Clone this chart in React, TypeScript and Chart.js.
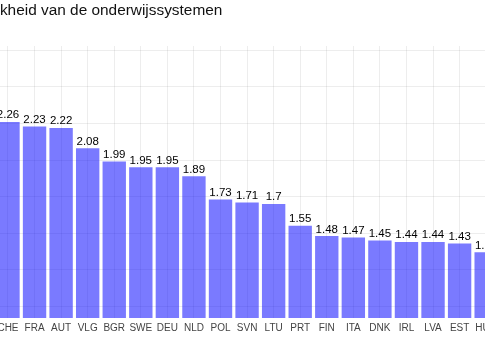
import React, { useEffect, useRef } from "react";
import { Chart, registerables } from "chart.js";

Chart.register(...registerables);

const titleText = "Ongelijkheid van de onderwijssystemen";
const categories = ["CHE", "FRA", "AUT", "VLG", "BGR", "SWE", "DEU", "NLD", "POL", "SVN", "LTU", "PRT", "FIN", "ITA", "DNK", "IRL", "LVA", "EST", "HUN"];
const values = [2.26, 2.23, 2.22, 2.08, 1.99, 1.95, 1.95, 1.89, 1.73, 1.71, 1.7, 1.55, 1.48, 1.47, 1.45, 1.44, 1.44, 1.43, 1.37];
const yTicks = [1, 1.25, 1.5, 1.75, 2, 2.25, 2.5, 2.75];
const yMin = 0.92;
const yMax = 2.78;

const FONT = "'Liberation Sans', Arial, Helvetica, sans-serif";

const valueLabels = {
  id: "valueLabels",
  afterDatasetsDraw(chart: any) {
    const ctx = chart.ctx;
    const meta = chart.getDatasetMeta(0);
    ctx.save();
    ctx.font = `11.5px ${FONT}`;
    ctx.fillStyle = "#000";
    ctx.textAlign = "center";
    ctx.textBaseline = "bottom";
    meta.data.forEach((bar: any, i: number) => {
      ctx.fillText(String(values[i]), bar.x, bar.y - 1);
    });
    ctx.restore();
  },
};

export default function App() {
  const ref = useRef<HTMLCanvasElement>(null);
  useEffect(() => {
    if (!ref.current) return;
    Chart.defaults.font.family = FONT;
    const chart = new Chart(ref.current, {
      type: "bar",
      data: {
        labels: categories,
        datasets: [
          {
            data: values,
            backgroundColor: "rgba(0,0,255,0.52)",
            borderWidth: 0,
            categoryPercentage: 1,
            barPercentage: 0.88,
          },
        ],
      },
      options: {
        animation: false,
        responsive: true,
        maintainAspectRatio: false,
        layout: { padding: { left: 0, right: 0, top: 0, bottom: 22 } },
        plugins: {
          legend: { display: false },
          tooltip: { enabled: false },
          title: {
            display: true,
            text: titleText,
            align: "start",
            color: "#111",
            font: { size: 15.4, weight: "normal", family: FONT },
            padding: { top: 1.5, bottom: 26 },
          },
        },
        scales: {
          x: {
            grid: { offset: false, color: "rgba(0,0,0,0.07)", drawTicks: false },
            border: { display: false },
            ticks: { color: "#444", font: { size: 10, family: FONT }, padding: 4, maxRotation: 0, autoSkip: false },
          },
          y: {
            min: yMin,
            max: yMax,
            afterBuildTicks: (scale: any) => {
              scale.ticks = yTicks.map((v) => ({ value: v }));
            },
            afterFit: (scale: any) => {
              scale.width = 42.7;
            },
            grid: { color: "rgba(0,0,0,0.07)", drawTicks: false },
            border: { display: false },
            ticks: { display: false },
          },
        },
      },
      plugins: [valueLabels],
    });
    return () => chart.destroy();
  }, []);

  return (
    <div style={{ position: "fixed", left: 0, top: 0, width: 485, height: 360, overflow: "hidden", background: "#fff" }}>
      <div style={{ position: "absolute", left: -48, top: 0, width: 549, height: 360 }}>
        <canvas ref={ref} />
      </div>
    </div>
  );
}
